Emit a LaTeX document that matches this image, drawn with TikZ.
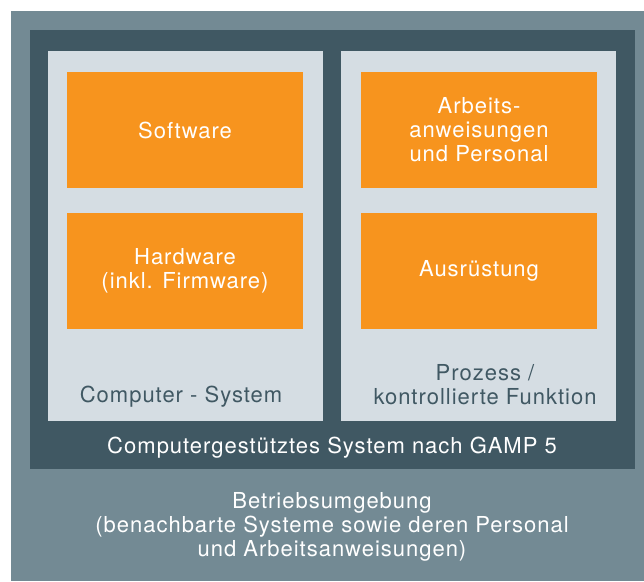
\documentclass[tikz,border=0pt]{standalone}
\usepackage{fontspec}
\setmainfont{TeX Gyre Heros}[LetterSpace=4.5]
\usepackage{tikz}
\usetikzlibrary{positioning}
\definecolor{gpEnv}{HTML}{738A94}
\definecolor{gpSys}{HTML}{405863}
\definecolor{gpPanel}{HTML}{D5DDE3}
\definecolor{gpBlock}{HTML}{F7941E}
\tikzset{
  gpbox/.style={rectangle, inner sep=0pt, outer sep=0pt, anchor=north west},
  envbox/.style={gpbox, fill=gpEnv, minimum width=633pt, minimum height=570pt},
  sysbox/.style={gpbox, fill=gpSys, minimum width=605pt, minimum height=439pt},
  panel/.style={gpbox, fill=gpPanel, minimum width=275pt, minimum height=370pt},
  block/.style={rectangle, inner sep=0pt, outer sep=0pt, fill=gpBlock,
    minimum width=236pt, minimum height=116pt, align=center, text=white,
    font=\fontsize{22}{24}\selectfont},
  label/.style={inner sep=0pt, align=center, font=\fontsize{22}{24}\selectfont},
  panellabel/.style={label, text=gpSys},
  darklabel/.style={label, text=white}
}
\begin{document}
\begin{tikzpicture}[x=1pt,y=-1pt]
  \useasboundingbox (0,0) rectangle (644,581);
  % nested areas
  \node[envbox] (env) at (11,11) {};
  \node[sysbox] (gamp) at (30,30) {};
  \node[panel] (comp) at (48,51) {};
  \node[panel] (proc) at (341,51) {};
  % components
  \node[block, anchor=north west] (sw) at (67,72) {Software};
  \node[block, below=25pt of sw] (hw) {Hardware\\(inkl. Firmware)};
  \node[block, anchor=north west] (arb) at (361,72) {Arbeits-\\anweisungen\\und Personal};
  \node[block, below=25pt of arb] (aus) {Ausrüstung};
  % labels
  \node[panellabel] (complabel) at (181,397) {Computer - System};
  \node[panellabel] (proclabel) at (485,385) {Prozess /\\kontrollierte Funktion};
  \node[darklabel] (gamplabel) at (332,448) {Computergestütztes System nach GAMP 5};
  \node[darklabel] (envlabel) at (332,527) {Betriebsumgebung\\(benachbarte Systeme sowie deren Personal\\und Arbeitsanweisungen)};
\end{tikzpicture}
\end{document}
